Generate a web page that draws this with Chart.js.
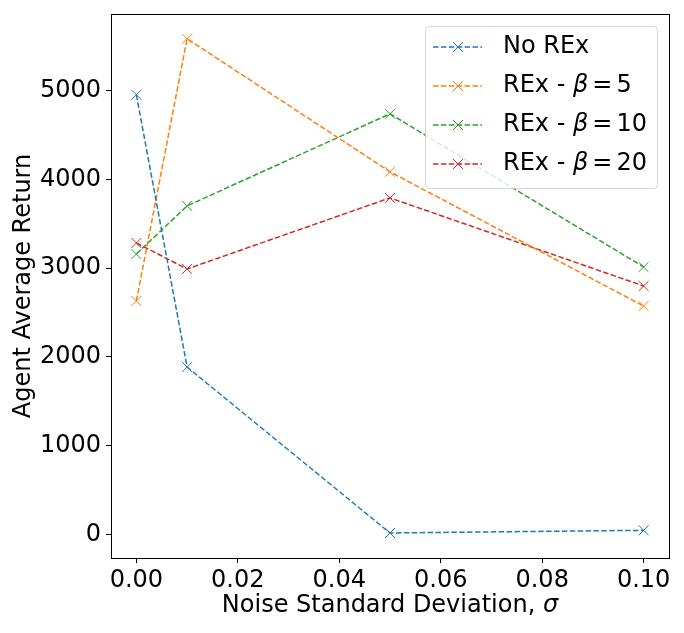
<!DOCTYPE html>
<html>
<head>
<meta charset="utf-8">
<script src="https://cdn.jsdelivr.net/npm/chart.js@4/dist/chart.umd.min.js"></script>
<style>
html,body{margin:0;padding:0;background:#fff;}
#wrap{width:684px;height:633px;position:relative;}
</style>
</head>
<body>
<div id="wrap"><canvas id="c" width="684" height="633"></canvas></div>
<script>
// ---- data ----
const xValues = [0, 0.01, 0.05, 0.1];
const noRex  = [4955, 1885, 15, 45];
const beta5  = [2630, 5587, 4086, 2573];
const beta10 = [3160, 3702, 4740, 3013];
const beta20 = [3284, 2991, 3792, 2799];
const seriesLabels = ['No REx', 'REx - β=5', 'REx - β=10', 'REx - β=20'];
const seriesColors = ['#1f77b4', '#ff7f0e', '#2ca02c', '#d62728'];
const xTicks = [0, 0.02, 0.04, 0.06, 0.08, 0.10];
const yTicks = [0, 1000, 2000, 3000, 4000, 5000];
const xTitle = ['Noise Standard Deviation, ', 'σ'];
const yTitle = 'Agent Average Return';

const FONT = '"DejaVu Sans", sans-serif';
const seriesValues = [noRex, beta5, beta10, beta20];

const datasets = seriesValues.map((vals, i) => ({
  label: seriesLabels[i],
  data: xValues.map((x, j) => ({x: x, y: vals[j]})),
  borderColor: seriesColors[i],
  backgroundColor: seriesColors[i],
  borderWidth: 1.5,
  borderDash: [5.5, 2.4],
  pointStyle: 'crossRot',
  pointRadius: 7,
  pointHoverRadius: 7,
  pointBorderWidth: 1,
  pointBorderColor: seriesColors[i],
  fill: false,
  tension: 0
}));

function drawMixed(ctx, parts, x, y, size) {
  let cx = x;
  for (const p of parts) {
    ctx.font = (p.italic ? 'italic ' : '') + size + 'px ' + FONT;
    ctx.fillText(p.t, cx, y);
    cx += ctx.measureText(p.t).width + (p.gap || 0);
  }
  return cx;
}
function mixedWidth(ctx, parts, size) {
  let w = 0;
  for (const p of parts) {
    ctx.font = (p.italic ? 'italic ' : '') + size + 'px ' + FONT;
    w += ctx.measureText(p.t).width + (p.gap || 0);
  }
  return w;
}
function splitBeta(s) {
  const idx = s.indexOf('β');
  if (idx < 0) return [{t: s, italic: false}];
  const rest = s.slice(idx + 1);
  const eq = rest.indexOf('=');
  return [
    {t: s.slice(0, idx), italic: false},
    {t: 'β', italic: true, gap: 4},
    {t: '=', italic: false, gap: 4},
    {t: rest.slice(eq + 1), italic: false}
  ];
}

const framePlugin = {
  id: 'frame',
  afterDatasetsDraw(chart) {
    const {ctx, chartArea: a} = chart;
    ctx.save();
    ctx.strokeStyle = '#000';
    ctx.lineWidth = 1;
    ctx.strokeRect(Math.round(a.left) + 0.5, Math.round(a.top) + 0.5, Math.round(a.right - a.left), Math.round(a.bottom - a.top));
    ctx.restore();
  },
  afterDraw(chart) {
    const {ctx, chartArea: a} = chart;
    ctx.save();
    const parts = [{t: xTitle[0], italic: false}, {t: xTitle[1], italic: true}];
    const w = mixedWidth(ctx, parts, 24);
    ctx.fillStyle = '#000';
    ctx.textBaseline = 'middle';
    ctx.textAlign = 'left';
    drawMixed(ctx, parts, (a.left + a.right) / 2 - w / 2, 606, 24);

    // legend
    const bx = 425.5, by = 26.5, bw = 232, bh = 162, r = 4;
    ctx.beginPath();
    ctx.moveTo(bx + r, by);
    ctx.arcTo(bx + bw, by, bx + bw, by + bh, r);
    ctx.arcTo(bx + bw, by + bh, bx, by + bh, r);
    ctx.arcTo(bx, by + bh, bx, by, r);
    ctx.arcTo(bx, by, bx + bw, by, r);
    ctx.closePath();
    ctx.fillStyle = 'rgba(255,255,255,0.8)';
    ctx.fill();
    ctx.strokeStyle = 'rgba(204,204,204,0.8)';
    ctx.lineWidth = 1;
    ctx.stroke();
    chart.data.datasets.forEach((ds, i) => {
      const cy = 47 + i * 39;
      ctx.strokeStyle = ds.borderColor;
      ctx.lineWidth = 1.5;
      ctx.setLineDash([5.5, 2.4]);
      ctx.beginPath();
      ctx.moveTo(433, cy);
      ctx.lineTo(482, cy);
      ctx.stroke();
      ctx.setLineDash([]);
      ctx.lineWidth = 1;
      const m = 5;
      ctx.beginPath();
      ctx.moveTo(458 - m, cy - m); ctx.lineTo(458 + m, cy + m);
      ctx.moveTo(458 - m, cy + m); ctx.lineTo(458 + m, cy - m);
      ctx.stroke();
      ctx.fillStyle = '#000';
      ctx.textBaseline = 'middle';
      drawMixed(ctx, splitBeta(ds.label), 503, cy, 24);
    });
    ctx.restore();
  }
};

new Chart(document.getElementById('c'), {
  type: 'line',
  data: {datasets: datasets},
  options: {
    responsive: false,
    animation: false,
    devicePixelRatio: 1,
    layout: {padding: {left: 0, right: 15, top: 14, bottom: 0}},
    plugins: {legend: {display: false}, tooltip: {enabled: false}},
    scales: {
      x: {
        type: 'linear',
        min: -0.005,
        max: 0.105,
        afterBuildTicks(s) { s.ticks = xTicks.map(v => ({value: v})); },
        afterFit(s) { s.height = 75; s.paddingLeft = 0; s.paddingRight = 0; },
        grid: {display: true, drawOnChartArea: false, drawTicks: true, tickLength: 5, color: '#000', lineWidth: 1},
        border: {display: true, color: '#000', width: 1},
        ticks: {
          color: '#000',
          font: {family: FONT, size: 24},
          padding: 3,
          maxRotation: 0,
          autoSkip: false,
          callback: v => Number(v).toFixed(2)
        }
      },
      y: {
        type: 'linear',
        min: -267,
        max: 5865,
        afterBuildTicks(s) { s.ticks = yTicks.map(v => ({value: v})); },
        afterFit(s) { s.width = 111; s.paddingTop = 0; s.paddingBottom = 0; },
        grid: {display: true, drawOnChartArea: false, drawTicks: true, tickLength: 5, color: '#000', lineWidth: 1},
        border: {display: true, color: '#000', width: 1},
        title: {display: true, text: yTitle, color: '#000', font: {family: FONT, size: 24}, padding: {top: 9, bottom: 0}},
        ticks: {
          color: '#000',
          font: {family: FONT, size: 24},
          padding: 5,
          autoSkip: false,
          callback: v => String(v)
        }
      }
    }
  },
  plugins: [framePlugin]
});
</script>
</body>
</html>
